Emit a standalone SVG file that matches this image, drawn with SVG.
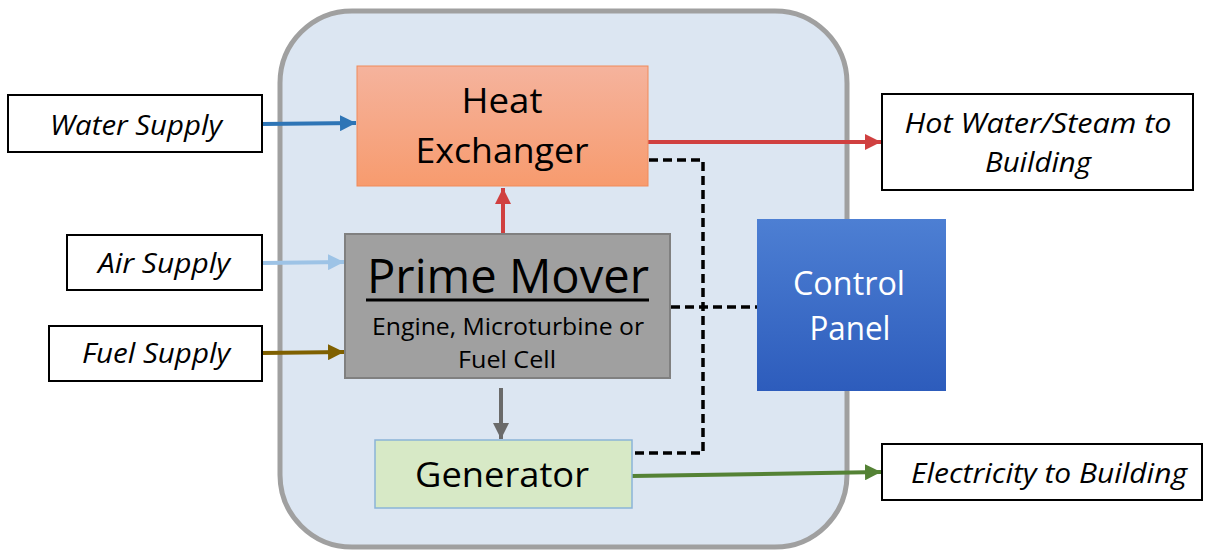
<svg xmlns="http://www.w3.org/2000/svg" width="1207" height="552" viewBox="0 0 1207 552">
<defs>
<linearGradient id="gHX" x1="0" y1="0" x2="0" y2="1"><stop offset="0" stop-color="#f5b39d"/><stop offset="1" stop-color="#f79b6e"/></linearGradient>
<linearGradient id="gCP" x1="0" y1="0" x2="0" y2="1"><stop offset="0" stop-color="#4d7fd3"/><stop offset="1" stop-color="#2d5cbc"/></linearGradient>
<marker id="aBlue" viewBox="0 0 10 10" refX="10" refY="5" markerWidth="4" markerHeight="4" orient="auto" markerUnits="strokeWidth"><path d="M0,0L10,5L0,10z" fill="#2e75b6"/></marker>
<marker id="aLBlue" viewBox="0 0 10 10" refX="10" refY="5" markerWidth="4" markerHeight="4" orient="auto" markerUnits="strokeWidth"><path d="M0,0L10,5L0,10z" fill="#9dc3e6"/></marker>
<marker id="aBrown" viewBox="0 0 10 10" refX="10" refY="5" markerWidth="4" markerHeight="4" orient="auto" markerUnits="strokeWidth"><path d="M0,0L10,5L0,10z" fill="#7f6000"/></marker>
<marker id="aRed" viewBox="0 0 10 10" refX="10" refY="5" markerWidth="4" markerHeight="4" orient="auto" markerUnits="strokeWidth"><path d="M0,0L10,5L0,10z" fill="#d04040"/></marker>
<marker id="aGray" viewBox="0 0 10 10" refX="10" refY="5" markerWidth="4" markerHeight="4" orient="auto" markerUnits="strokeWidth"><path d="M0,0L10,5L0,10z" fill="#6a6a6a"/></marker>
<marker id="aGreen" viewBox="0 0 10 10" refX="10" refY="5" markerWidth="4" markerHeight="4" orient="auto" markerUnits="strokeWidth"><path d="M0,0L10,5L0,10z" fill="#548235"/></marker>
</defs>
<style>
.ext{fill:#ffffff;stroke:#000000;stroke-width:2}
.extt{font-family:"Open Sans","Liberation Sans",sans-serif;font-style:italic;font-size:28px;fill:#000;text-anchor:middle}
.nt{font-family:"Open Sans","Liberation Sans",sans-serif;fill:#000;text-anchor:middle}
.wt{font-family:"Open Sans","Liberation Sans",sans-serif;fill:#ffffff;text-anchor:middle;font-size:33px}
.ln{fill:none;stroke-width:4}
.dash{fill:none;stroke:#000;stroke-width:3.5;stroke-dasharray:9,5}
</style>
<g id="container"><rect x="280" y="11" width="567" height="536" rx="72" ry="72" fill="#dce6f2" stroke="#a0a0a0" stroke-width="5"/></g>
<g id="connectors">
<polyline class="dash" points="649,160 703,160 703,453 632,453"/>
<line class="dash" x1="671" y1="307" x2="757" y2="307"/>
<line class="ln" x1="262" y1="124" x2="356" y2="123" stroke="#2e75b6" marker-end="url(#aBlue)"/>
<line class="ln" x1="262" y1="263" x2="344" y2="262" stroke="#9dc3e6" marker-end="url(#aLBlue)"/>
<line class="ln" x1="262" y1="353" x2="344" y2="352" stroke="#7f6000" marker-end="url(#aBrown)"/>
<line class="ln" x1="503" y1="233" x2="503" y2="188" stroke="#d04040" marker-end="url(#aRed)"/>
<line class="ln" x1="648" y1="142" x2="881" y2="142" stroke="#d04040" marker-end="url(#aRed)"/>
<line class="ln" x1="501" y1="388" x2="501" y2="439" stroke="#6a6a6a" marker-end="url(#aGray)"/>
<line class="ln" x1="632" y1="476" x2="881" y2="472" stroke="#548235" marker-end="url(#aGreen)"/>
</g>
<g id="heat-exchanger">
<rect x="357" y="66" width="291" height="120" fill="url(#gHX)" stroke="#f08a5a" stroke-width="1"/>
<text class="nt" x="502" y="113" font-size="35" textLength="81" lengthAdjust="spacingAndGlyphs">Heat</text>
<text class="nt" x="502" y="163" font-size="35" textLength="173" lengthAdjust="spacingAndGlyphs">Exchanger</text>
</g>
<g id="prime-mover">
<rect x="345" y="234" width="325" height="144" fill="#a0a0a0" stroke="#808080" stroke-width="2"/>
<text class="nt" x="508" y="293" font-size="47" textLength="282" lengthAdjust="spacingAndGlyphs">Prime Mover</text>
<line x1="366" y1="300" x2="649" y2="300" stroke="#000" stroke-width="3"/>
<text class="nt" x="508" y="335" font-size="24" textLength="272" lengthAdjust="spacingAndGlyphs">Engine, Microturbine or</text>
<text class="nt" x="507" y="368" font-size="24" textLength="98" lengthAdjust="spacingAndGlyphs">Fuel Cell</text>
</g>
<g id="generator">
<rect x="375" y="440" width="257" height="68" fill="#d7e9c6" stroke="#8ab4d8" stroke-width="1.5"/>
<text class="nt" x="502" y="487" font-size="35" textLength="174" lengthAdjust="spacingAndGlyphs">Generator</text>
</g>
<g id="control-panel">
<rect x="757" y="219" width="189" height="172" fill="url(#gCP)"/>
<text class="wt" x="849" y="295" textLength="112" lengthAdjust="spacingAndGlyphs">Control</text>
<text class="wt" x="850" y="340" textLength="81" lengthAdjust="spacingAndGlyphs">Panel</text>
</g>
<g id="water-supply"><rect class="ext" x="8" y="95" width="254" height="57"/><text class="extt" x="136" y="135" textLength="172" lengthAdjust="spacingAndGlyphs">Water Supply</text></g>
<g id="air-supply"><rect class="ext" x="67" y="235" width="195" height="55"/><text class="extt" x="164" y="273" textLength="132" lengthAdjust="spacingAndGlyphs">Air Supply</text></g>
<g id="fuel-supply"><rect class="ext" x="49" y="326" width="213" height="55"/><text class="extt" x="156" y="363" textLength="148" lengthAdjust="spacingAndGlyphs">Fuel Supply</text></g>
<g id="hot-water"><rect class="ext" x="882" y="94" width="311" height="96"/><text class="extt" x="1038" y="133" textLength="267" lengthAdjust="spacingAndGlyphs">Hot Water/Steam to</text><text class="extt" x="1038" y="172" textLength="106" lengthAdjust="spacingAndGlyphs">Building</text></g>
<g id="electricity"><rect class="ext" x="882" y="444" width="320" height="56"/><text class="extt" x="1049" y="483" textLength="276" lengthAdjust="spacingAndGlyphs">Electricity to Building</text></g>
</svg>
